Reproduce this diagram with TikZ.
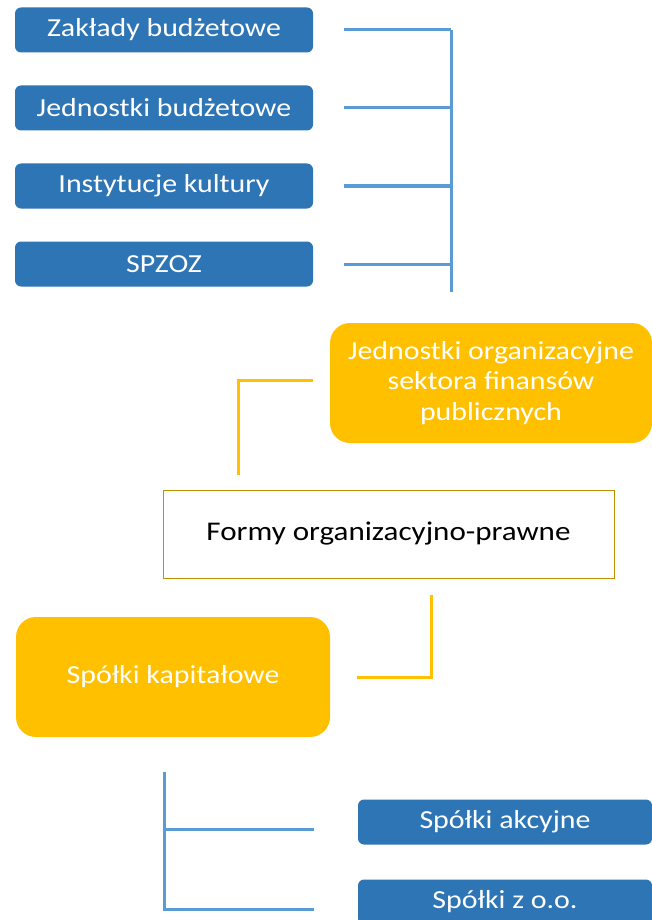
\documentclass[tikz,border=0pt]{standalone}
\usepackage{fontspec}
\setmainfont[FakeStretch=1.15]{Carlito}
\usepackage{tikz}
\usetikzlibrary{positioning}

\definecolor{boxblue}{HTML}{2E75B6}
\definecolor{lineblue}{HTML}{5B9BD5}
\definecolor{boxgold}{HTML}{FFC000}
\definecolor{edgegold}{HTML}{BF9000}

\begin{document}
\begin{tikzpicture}[x=1pt, y=-1pt,
    bluebox/.style={fill=boxblue, text=white, rounded corners=6pt, minimum width=298pt, minimum height=45pt, font=\fontsize{26}{30}\selectfont, inner sep=0pt},
    goldbox/.style={fill=boxgold, text=white, rounded corners=20pt, minimum height=120pt, font=\fontsize{26}{30.5}\selectfont, inner sep=0pt, align=center},
    blueline/.style={lineblue, line width=3pt},
    goldline/.style={boxgold, line width=3pt}]
    % Frame of the page
    \useasboundingbox (0,0) rectangle (652,920);
    \clip (0,0) rectangle (652,920);

    % Blue boxes on top
    \node[bluebox] (zaklady) at (164,30) {Zakłady budżetowe};
    \node[bluebox] (jednostki) at (164,108) {Jednostki budżetowe};
    \node[bluebox] (kultura) at (164,186) {Instytucje kultury};
    \node[bluebox] (spzoz) at (164,264) {SPZOZ};

    % Bracket right of the blue boxes
    \coordinate (brtop) at (451,30);
    \coordinate (brbot) at (451,292);
    \draw[blueline] (brtop) -- (brbot);
    \foreach \n in {zaklady, jednostki, kultura, spzoz}
        \draw[blueline] ([xshift=31pt]\n.east) -- (\n.east -| brtop);

    % Gold boxes and the middle box
    \node[goldbox, minimum width=322pt] (sektor) at (491,383) {Jednostki organizacyjne\\sektora finansów\\publicznych};
    \node[draw=edgegold, line width=1pt, fill=white, minimum width=451pt, minimum height=88pt,
          font=\fontsize{27}{30}\selectfont] (formy) at (388.5,534) {Formy organizacyjno-prawne};
    \node[goldbox, minimum width=314pt] (kapital) at (173,677) {Spółki kapitałowe};

    % Gold connectors
    \coordinate (sekend) at (238,475);
    \draw[goldline] ([xshift=-17pt,yshift=3pt]sektor.west) -| (sekend);
    \coordinate (formend) at (431,595);
    \draw[goldline] (formend) |- ([xshift=27pt]kapital.east);

    % Blue boxes at the bottom
    \node[bluebox, minimum width=294pt] (akcyjne) at (505,822) {Spółki akcyjne};
    \node[bluebox, minimum width=294pt] (zoo) at (505,902) {Spółki z o.o.};

    % Bracket left of the bottom boxes
    \coordinate (lbtop) at (164,772);
    \draw[blueline] (lbtop) |- ([xshift=-44pt,yshift=-7pt]zoo.west);
    \draw[blueline] ([yshift=-7pt]lbtop |- akcyjne.west) -- ([xshift=-44pt,yshift=-7pt]akcyjne.west);
\end{tikzpicture}
\end{document}
